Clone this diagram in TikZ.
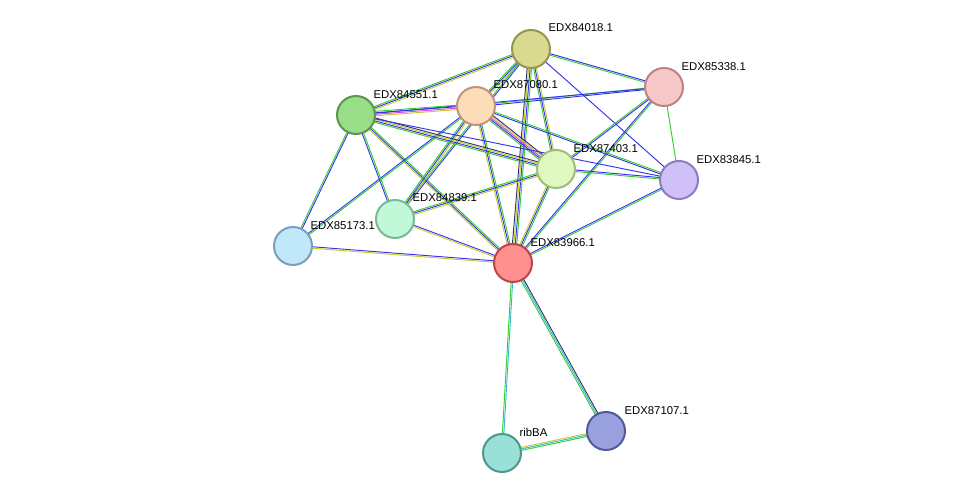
\documentclass[tikz,border=0pt]{standalone}
\usepackage{fontspec}
\setmainfont{Liberation Sans}
\usetikzlibrary{calc}
\definecolor{eGreen}{HTML}{33CC33}
\definecolor{eBlue}{HTML}{3333EE}
\definecolor{eYellow}{HTML}{C8C832}
\definecolor{eDark}{HTML}{333366}
\definecolor{eMag}{HTML}{DD44DD}
\definecolor{eCyan}{HTML}{33BBCC}
\tikzset{
  prot/.style={circle, draw, line width=1.5pt, minimum size=28.5pt, inner sep=0pt},
  plabel/.style={font=\fontsize{8.5}{10}\selectfont, anchor=south west, inner sep=1pt}
}
% edge with parallel coloured lines
\newcommand{\sedge}[3]{%
  \foreach \c [count=\i] in {#3} {\xdef\nlines{\i}}%
  \foreach \c [count=\i] in {#3} {%
    \pgfmathsetmacro{\off}{(\i-(\nlines+1)/2)*1.1}%
    \draw[\c, line width=0.7pt] ($(#1)!\off pt!90:(#2)$) -- ($(#2)!\off pt!-90:(#1)$);
  }}
\begin{document}
\begin{tikzpicture}[x=0.75pt, y=-0.75pt]
  \useasboundingbox (0,0) rectangle (976,499);
  \coordinate (c84018) at (531,49);
  \coordinate (c85338) at (664,87);
  \coordinate (c87080) at (476,106);
  \coordinate (c84551) at (356,115);
  \coordinate (c87403) at (556,169);
  \coordinate (c83845) at (679,180);
  \coordinate (c84839) at (395,219);
  \coordinate (c85173) at (293,246);
  \coordinate (c83966) at (513,263);
  \coordinate (c87107) at (606,431);
  \coordinate (cribBA) at (502,453);

  \sedge{c83966}{c84018}{eGreen,eBlue,eYellow,eDark}
  \sedge{c83966}{c87080}{eGreen,eBlue,eYellow}
  \sedge{c83966}{c84551}{eGreen,eBlue,eYellow}
  \sedge{c83966}{c87403}{eGreen,eBlue,eYellow}
  \sedge{c83966}{c85338}{eGreen,eBlue}
  \sedge{c83966}{c83845}{eGreen,eBlue}
  \sedge{c83966}{c84839}{eBlue,eYellow}
  \sedge{c83966}{c85173}{eBlue,eYellow}
  \sedge{c83966}{c87107}{eGreen,eCyan,eDark}
  \sedge{c83966}{cribBA}{eGreen,eCyan}
  \sedge{cribBA}{c87107}{eGreen,eCyan,eYellow}
  \sedge{c84018}{c85338}{eGreen,eBlue}
  \sedge{c84018}{c83845}{eBlue}
  \sedge{c84018}{c87080}{eGreen,eBlue,eYellow}
  \sedge{c84018}{c84551}{eGreen,eBlue,eYellow}
  \sedge{c84018}{c87403}{eGreen,eBlue,eYellow}
  \sedge{c84018}{c84839}{eGreen,eBlue}
  \sedge{c85338}{c87080}{eGreen,eBlue}
  \sedge{c85338}{c87403}{eGreen,eBlue}
  \sedge{c85338}{c83845}{eGreen}
  \sedge{c84551}{c85338}{eBlue}
  \sedge{c87080}{c84551}{eGreen,eBlue,eMag,eYellow}
  \sedge{c87080}{c87403}{eGreen,eBlue,eMag,eYellow,eDark}
  \sedge{c87080}{c83845}{eBlue,eGreen}
  \sedge{c87080}{c84839}{eGreen,eBlue,eYellow}
  \sedge{c87080}{c85173}{eBlue,eGreen}
  \sedge{c84551}{c87403}{eGreen,eBlue,eYellow,eDark}
  \sedge{c84551}{c83845}{eBlue}
  \sedge{c84551}{c84839}{eBlue,eGreen}
  \sedge{c84551}{c85173}{eGreen,eBlue}
  \sedge{c87403}{c83845}{eGreen,eBlue}
  \sedge{c87403}{c84839}{eGreen,eBlue,eYellow}

  \node (n84018) [prot, fill={rgb,255:red,217;green,217;blue,143}, draw={rgb,255:red,150;green,150;blue,80}] at (c84018) {};
  \node (n85338) [prot, fill={rgb,255:red,248;green,200;blue,200}, draw={rgb,255:red,190;green,130;blue,130}] at (c85338) {};
  \node (n87080) [prot, fill={rgb,255:red,253;green,220;blue,184}, draw={rgb,255:red,190;green,150;blue,120}] at (c87080) {};
  \node (n84551) [prot, fill={rgb,255:red,153;green,221;blue,136}, draw={rgb,255:red,90;green,150;blue,80}] at (c84551) {};
  \node (n87403) [prot, fill={rgb,255:red,224;green,248;blue,192}, draw={rgb,255:red,160;green,190;blue,120}] at (c87403) {};
  \node (n83845) [prot, fill={rgb,255:red,208;green,192;blue,248}, draw={rgb,255:red,140;green,125;blue,190}] at (c83845) {};
  \node (n84839) [prot, fill={rgb,255:red,192;green,248;blue,216}, draw={rgb,255:red,120;green,185;blue,150}] at (c84839) {};
  \node (n85173) [prot, fill={rgb,255:red,192;green,232;blue,248}, draw={rgb,255:red,120;green,160;blue,190}] at (c85173) {};
  \node (n83966) [prot, fill={rgb,255:red,255;green,144;blue,144}, draw={rgb,255:red,190;green,70;blue,70}] at (c83966) {};
  \node (n87107) [prot, fill={rgb,255:red,153;green,160;blue,224}, draw={rgb,255:red,80;green,90;blue,150}] at (c87107) {};
  \node (nribBA) [prot, fill={rgb,255:red,153;green,224;blue,216}, draw={rgb,255:red,80;green,150;blue,140}] at (cribBA) {};

  \node [plabel] at (547,33) {EDX84018.1};
  \node [plabel] at (680,72) {EDX85338.1};
  \node [plabel] at (492,90) {EDX87080.1};
  \node [plabel] at (372,100) {EDX84551.1};
  \node [plabel] at (572,154) {EDX87403.1};
  \node [plabel] at (695,165) {EDX83845.1};
  \node [plabel] at (411,203) {EDX84839.1};
  \node [plabel] at (309,231) {EDX85173.1};
  \node [plabel] at (529,248) {EDX83966.1};
  \node [plabel] at (623,416) {EDX87107.1};
  \node [plabel] at (518,438) {ribBA};
\end{tikzpicture}
\end{document}
